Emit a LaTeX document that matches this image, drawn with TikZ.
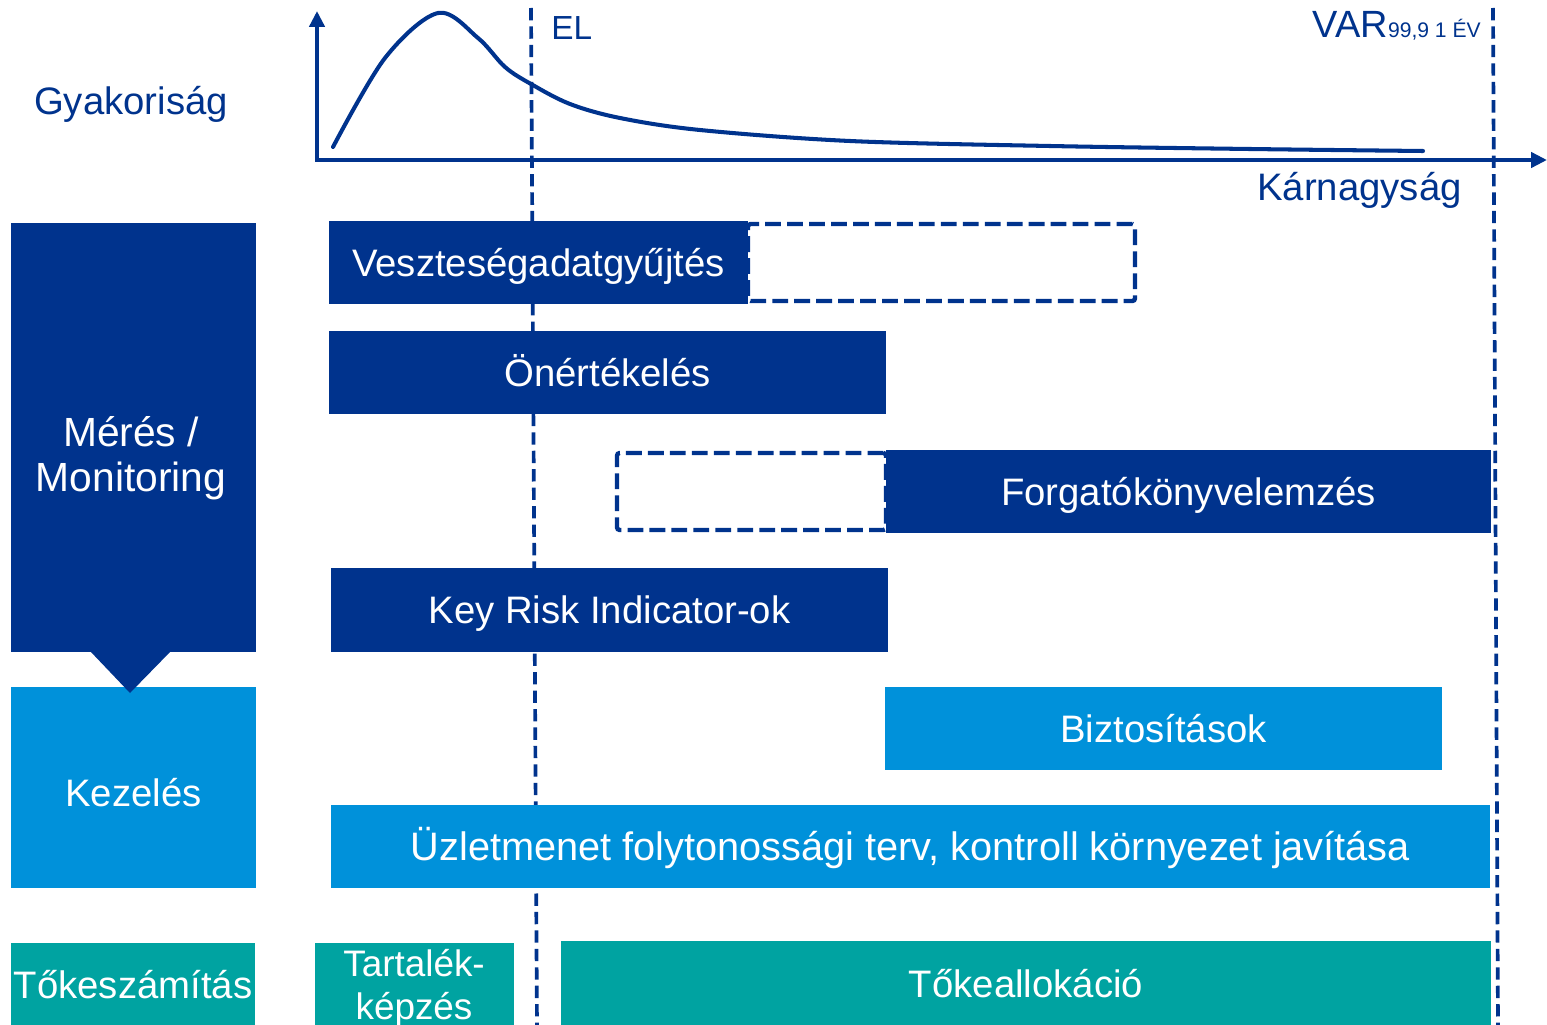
\documentclass[tikz,border=0pt]{standalone}
\usepackage{fontspec}
\setmainfont{Liberation Sans}
\usetikzlibrary{arrows.meta}
\definecolor{kdark}{HTML}{00338D}
\definecolor{kmid}{HTML}{0091DA}
\definecolor{kteal}{HTML}{00A3A1}

\begin{document}
\begin{tikzpicture}[x=0.02cm,y=-0.02cm,
  every node/.style={font=\fontsize{21.8}{26}\selectfont},
  bar/.style={anchor=north west, inner sep=0pt, outer sep=0pt, text=white,
    text height=15.6pt, text depth=0pt},
  size/.style 2 args={minimum width=#1*0.02cm, minimum height=#2*0.02cm},
  darkbar/.style={bar, fill=kdark},
  midbar/.style={bar, fill=kmid},
  tealbar/.style={bar, fill=kteal},
  plan/.style={anchor=north west, draw=kdark, line width=2.5pt, dash pattern=on 9pt off 3.5pt,
    rounded corners=1.5pt, inner sep=0pt, outer sep=0pt},
  marker/.style={draw=kdark, line width=2.1pt, dash pattern=on 7pt off 3.5pt},
  axis/.style={draw=kdark, line width=2.3pt},
  lbl/.style={text=kdark, inner sep=0pt},
  inlbl/.style={text=white, inner sep=0pt, align=center}
]
\useasboundingbox (0,0) rectangle (1547,1024);
\clip (0,0) rectangle (1547,1024);

% expected loss and VaR markers
\coordinate (elTop) at (531,8);
\coordinate (elBot) at (537,1030);
\coordinate (varTop) at (1493,8);
\coordinate (varBot) at (1498,1030);
\draw[marker] (elTop) -- (elBot);
\draw[marker] (varTop) -- (varBot);

% axes of the loss distribution
\coordinate (yTip) at (317,11);
\coordinate (origin) at (317,160);
\coordinate (xTip) at (1547,160);
\draw[axis, {Triangle[length=9pt,width=8.5pt]}-{Triangle[length=9pt,width=8.5pt]}]
  (yTip) -- (origin) -- (xTip);

% loss distribution curve
\draw[kdark, line width=2.3pt, line cap=round]
  plot[smooth, tension=0.55] coordinates {
    (333,147) (385,58) (438,13) (478,38) (505,67) (531,84) (570,104)
    (620,118) (700,130) (850,141) (1050,146) (1250,149) (1423,151)};

% axis labels
\node[lbl] (freq) at (131,104) {Gyakoriság};
\node[lbl, anchor=base east] (sev) at (1462,200) {Kárnagyság};
\node[lbl, anchor=base west, font=\fontsize{19}{22}\selectfont] (el) at (551,40) {EL};
\node[lbl, anchor=base east, font=\fontsize{21.6}{24}\selectfont] (var) at (1481,38)
  {VAR{\fontsize{12}{14}\selectfont 99,9 1 ÉV}};

% planned extensions (dashed)
\node[plan, size={387}{77}] (veszPlan) at (748,224) {};
\node[plan, size={269}{77}] (forgPlan) at (617,453) {};

% measurement / monitoring bars
\node[darkbar, size={419}{83}] (vesz) at (329,221) {Veszteségadatgyűjtés};
\node[darkbar, size={557}{83}] (oner) at (329,331) {Önértékelés};
\node[darkbar, size={605}{83}] (forg) at (886,450) {Forgatókönyvelemzés};
\node[darkbar, size={557}{84}] (kri) at (331,568) {Key Risk Indicator-ok};

% management bars
\node[midbar, size={557}{83}] (bizt) at (885,687) {Biztosítások};
\node[midbar, size={1159}{83}, font=\fontsize{22.6}{26}\selectfont, text height=16.2pt]
  (uzlet) at (331,805) {Üzletmenet folytonossági terv, kontroll környezet javítása};

% capital bars
\node[tealbar, size={930}{85}] (alloc) at (561,941) {Tőkeallokáció};
\node[tealbar, size={199}{83}] (tart) at (315,943) {};
\node[inlbl, font=\fontsize{21}{24.4}\selectfont] (tartTxt) at (414,988) {Tartalék-\\képzés};

% row headers
\node[darkbar, size={245}{429}] (meres) at (11,223) {};
\node[inlbl, font=\fontsize{23.2}{25.5}\selectfont] (meresTxt) at (131,458) {Mérés /\\Monitoring};
\node[midbar, size={245}{201}, text height=21.2pt] (kezel) at (11,687) {Kezelés};
\fill[kdark] (90,651) -- (130,693) -- (171,651) -- cycle;
\node[tealbar, size={244}{83}] (toke) at (11,943) {Tőkeszámítás};
\end{tikzpicture}
\end{document}
